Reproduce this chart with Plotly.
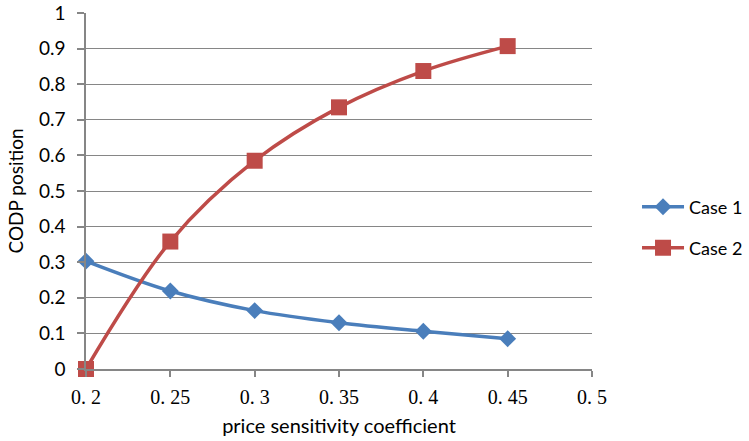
import plotly.graph_objects as go

x_vals = [0.2, 0.25, 0.3, 0.35, 0.4, 0.45]
case1 = [0.303, 0.219, 0.164, 0.130, 0.106, 0.085]
case2 = [0.0, 0.358, 0.585, 0.735, 0.837, 0.907]
x_ticks = [0.2, 0.25, 0.3, 0.35, 0.4, 0.45, 0.5]
x_tick_text = ["0. 2", "0. 25", "0. 3", "0. 35", "0. 4", "0. 45", "0. 5"]
y_ticks = [0, 0.1, 0.2, 0.3, 0.4, 0.5, 0.6, 0.7, 0.8, 0.9, 1]
y_tick_text = ["0", "0.1", "0.2", "0.3", "0.4", "0.5", "0.6", "0.7", "0.8", "0.9", "1"]

fig = go.Figure()
fig.add_trace(go.Scatter(
    x=x_vals, y=case1, name="Case 1", mode="lines+markers",
    line=dict(color="#4a7ebb", width=3.5, shape="spline"),
    marker=dict(symbol="diamond", size=13, color="#4a7ebb"),
    cliponaxis=False, legend="legend",
))
fig.add_trace(go.Scatter(
    x=x_vals, y=case2, name="Case 2", mode="lines+markers",
    line=dict(color="#be4b48", width=3.5, shape="spline"),
    marker=dict(symbol="square", size=16, color="#be4b48"),
    cliponaxis=False, legend="legend2",
))

legend_common = dict(
    xanchor="left", yanchor="middle", xref="container", yref="container",
    font=dict(family="Lato, sans-serif", size=18, color="black"),
    itemwidth=42, bgcolor="rgba(0,0,0,0)",
)

fig.update_layout(
    width=749, height=441,
    margin=dict(l=86, r=157, t=13, b=72),
    paper_bgcolor="white", plot_bgcolor="white",
    font=dict(family="Lato, sans-serif", size=20, color="black"),
    legend=dict(x=0.8505, y=0.5306, **legend_common),
    legend2=dict(x=0.8505, y=0.4376, **legend_common),
    showlegend=True,
)
fig.update_xaxes(
    range=[0.2, 0.5], tickvals=x_ticks, ticktext=x_tick_text,
    showgrid=False, zeroline=False, automargin=False,
    showline=True, linecolor="#868686", linewidth=1.5,
    ticks="outside", tickcolor="#868686", ticklen=6, tickwidth=1.5,
    ticklabelstandoff=3,
    tickfont=dict(family="Liberation Serif, DejaVu Serif, serif", size=20),
    title=dict(text="price sensitivity coefficient", font=dict(family="Lato, sans-serif", size=20), standoff=12),
)
fig.update_yaxes(
    range=[0, 1], tickvals=y_ticks, ticktext=y_tick_text,
    showgrid=True, gridcolor="#868686", gridwidth=1.2, zeroline=False, automargin=False,
    showline=True, linecolor="#868686", linewidth=1.5,
    ticks="outside", tickcolor="#868686", ticklen=7, tickwidth=1.5,
    ticklabelstandoff=8,
    tickfont=dict(family="Lato, sans-serif", size=19),
    title=dict(text="CODP position", font=dict(family="Lato, sans-serif", size=19), standoff=10),
)

fig.write_html("out.html")
